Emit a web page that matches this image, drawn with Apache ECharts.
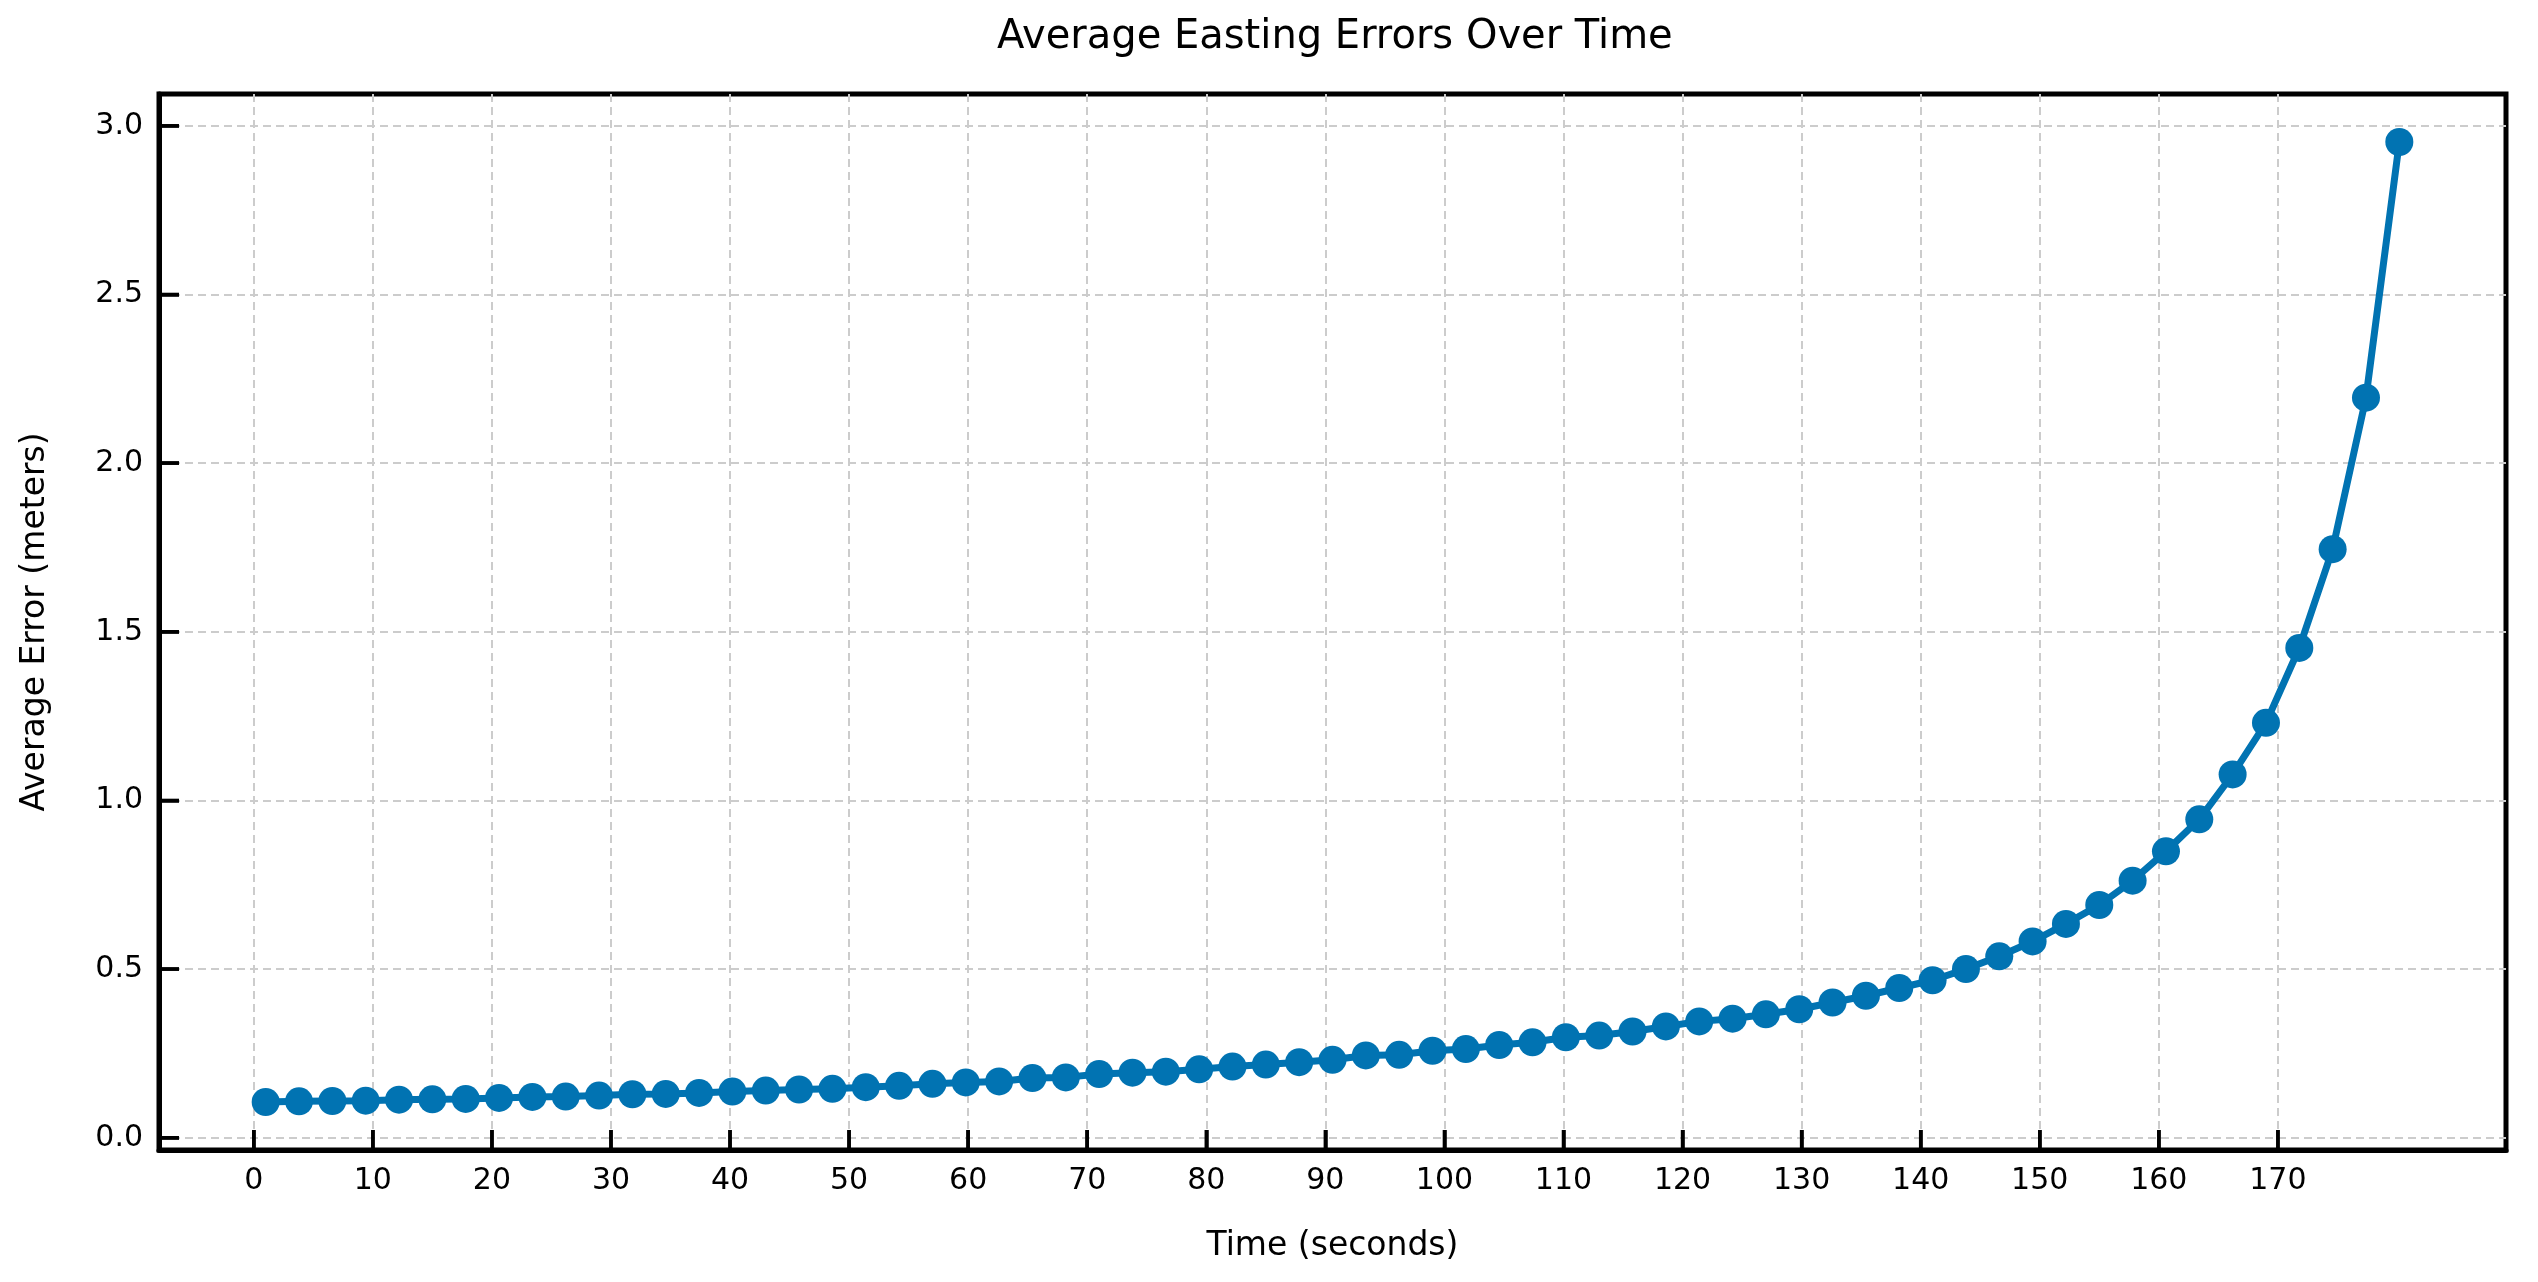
<!DOCTYPE html>
<html>
<head>
<meta charset="utf-8">
<script src="https://cdn.jsdelivr.net/npm/echarts@6/dist/echarts.min.js"></script>
<style>
html,body{margin:0;padding:0;background:#ffffff;}
#chart{width:2538px;height:1282px;}
</style>
</head>
<body>
<div id="chart"></div>
<script>
// ---- data ----
const chartTitle = 'Average Easting Errors Over Time';
const xAxisName = 'Time (seconds)';
const yAxisName = 'Average Error (meters)';

const times = [
  1.0, 3.8, 6.6, 9.4, 12.2, 15.0, 17.8, 20.6, 23.4, 26.2,
  29.0, 31.8, 34.6, 37.4, 40.2, 43.0, 45.8, 48.6, 51.4, 54.2,
  57.0, 59.8, 62.6, 65.4, 68.2, 71.0, 73.8, 76.6, 79.4, 82.2,
  85.0, 87.8, 90.6, 93.4, 96.2, 99.0, 101.8, 104.6, 107.4, 110.2,
  113.0, 115.8, 118.6, 121.4, 124.2, 127.0, 129.8, 132.6, 135.4, 138.2,
  141.0, 143.8, 146.6, 149.4, 152.2, 155.0, 157.8, 160.6, 163.4, 166.2,
  169.0, 171.8, 174.6, 177.4, 180.2
];
const errors = [
  0.106, 0.108, 0.109, 0.110, 0.113, 0.114, 0.115, 0.118, 0.121, 0.122,
  0.125, 0.129, 0.130, 0.133, 0.137, 0.140, 0.143, 0.145, 0.150, 0.154,
  0.160, 0.164, 0.167, 0.177, 0.179, 0.189, 0.193, 0.196, 0.203, 0.211,
  0.217, 0.224, 0.231, 0.244, 0.246, 0.258, 0.263, 0.275, 0.283, 0.298,
  0.303, 0.315, 0.330, 0.345, 0.353, 0.366, 0.381, 0.401, 0.421, 0.444,
  0.467, 0.500, 0.538, 0.582, 0.634, 0.690, 0.762, 0.849, 0.944, 1.077,
  1.230, 1.452, 1.745, 2.194, 2.952
];
const xTicks = [0, 10, 20, 30, 40, 50, 60, 70, 80, 90, 100, 110, 120, 130, 140, 150, 160, 170];
const yTicks = [0.0, 0.5, 1.0, 1.5, 2.0, 2.5, 3.0];

// ---- helpers ----
function paddedRange(arr) {
  const mn = Math.min.apply(null, arr), mx = Math.max.apply(null, arr);
  const m = (mx - mn) * 0.05;
  return [mn - m, mx + m];
}
const xr = paddedRange(times);
const yr = paddedRange(errors);

const FONT = 'DejaVu Sans';
const TICK_LEN = 20;
const GRID_LINE = { show: true, lineStyle: { color: '#cccccc', width: 2, type: [8, 5] } };
const AXIS_LINE = { show: true, onZero: false, lineStyle: { color: '#000000', width: 5 } };
const TICK_STYLE = { color: '#000000', width: 3.5 };

// inward tick marks drawn through the axes' own coordinate mapping
function tickRenderer(dx, dy) {
  return function (params, api) {
    const p = api.coord([api.value(0), api.value(1)]);
    return {
      type: 'line',
      shape: { x1: p[0], y1: p[1], x2: p[0] + dx, y2: p[1] + dy },
      style: { stroke: '#000000', lineWidth: 3.5 }
    };
  };
}

const chart = echarts.init(document.getElementById('chart'), null, { renderer: 'canvas' });
chart.setOption({
  animation: false,
  backgroundColor: '#ffffff',
  title: {
    text: chartTitle,
    left: 992,
    top: 13,
    textStyle: { fontFamily: FONT, fontSize: 40, fontWeight: 'normal', color: '#000000' }
  },
  grid: {
    left: 159, right: 32, top: 94, bottom: 132,
    show: true, borderColor: '#000000', borderWidth: 5, backgroundColor: 'transparent'
  },
  xAxis: {
    type: 'value',
    min: xr[0], max: xr[1],
    name: xAxisName,
    nameLocation: 'middle',
    nameGap: 80,
    nameTextStyle: { fontFamily: FONT, fontSize: 33, color: '#000000' },
    axisLine: AXIS_LINE,
    axisTick: { show: true, inside: true, length: TICK_LEN, customValues: xTicks, lineStyle: TICK_STYLE },
    axisLabel: {
      customValues: xTicks,
      margin: 16,
      fontFamily: FONT, fontSize: 30, color: '#000000',
      formatter: v => String(v)
    },
    splitLine: GRID_LINE
  },
  yAxis: {
    type: 'value',
    min: yr[0], max: yr[1],
    name: yAxisName,
    nameLocation: 'middle',
    nameGap: 107,
    nameRotate: 90,
    nameTextStyle: { fontFamily: FONT, fontSize: 33, color: '#000000' },
    axisLine: AXIS_LINE,
    axisTick: { show: true, inside: true, length: TICK_LEN, customValues: yTicks, lineStyle: TICK_STYLE },
    axisLabel: {
      customValues: yTicks,
      margin: 16,
      fontFamily: FONT, fontSize: 30, color: '#000000',
      formatter: v => v.toFixed(1)
    },
    splitLine: GRID_LINE
  },
  series: [
    {
      type: 'line',
      data: times.map((t, i) => [t, errors[i]]),
      symbol: 'circle',
      symbolSize: 28,
      showAllSymbol: true,
      lineStyle: { color: '#0173b2', width: 7 },
      itemStyle: { color: '#0173b2' },
      z: 5
    },
    {
      type: 'custom',
      silent: true,
      clip: false,
      z: 6,
      data: xTicks.map(v => [v, yr[0]]),
      renderItem: tickRenderer(0, -TICK_LEN)
    },
    {
      type: 'custom',
      silent: true,
      clip: false,
      z: 6,
      data: yTicks.map(v => [xr[0], v]),
      renderItem: tickRenderer(TICK_LEN, 0)
    }
  ]
});
</script>
</body>
</html>
